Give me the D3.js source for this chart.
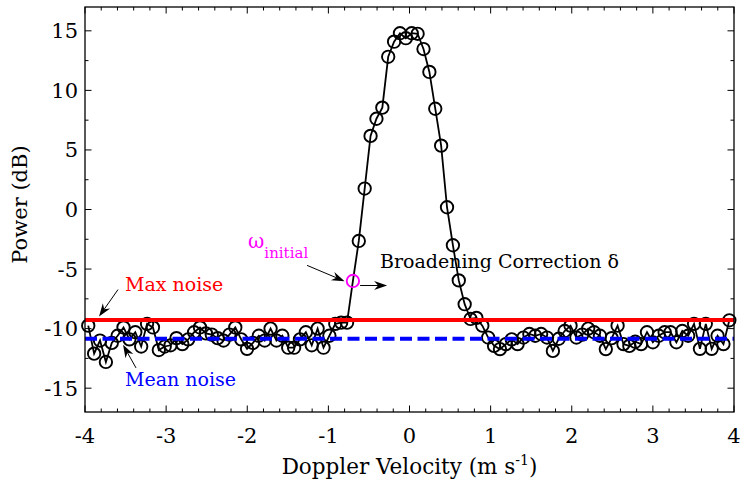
<!DOCTYPE html>
<html>
  <head>
    <meta charset="utf-8">
    <style>
      body { margin: 0; background: #fff; }
      svg text { font-family: 'DejaVu Serif', serif; }
    </style>
  </head>
  <body>
    <div class='chart-container'></div>
    <script src="https://cdn.jsdelivr.net/npm/d3@7"></script>
    <script>
// velocity bins: first bin and spacing (m/s)
var velocityStart = -3.96;
var velocityStep = 0.0725;

// spectral power per bin (dB)
var power = [
  -9.75, -12.1, -11.0, -12.8, -11.2, -10.6, -9.9, -10.9, -10.3, -11.5,
  -9.6, -9.9, -11.8, -11.5, -11.4, -10.8, -11.3, -10.9, -10.3, -9.9,
  -10.4, -10.5, -10.8, -11.0, -10.5, -9.9, -10.9, -11.7, -11.2, -10.6,
  -11.0, -10.0, -11.0, -10.6, -11.6, -11.6, -10.9, -10.3, -11.4, -10.0,
  -11.6, -10.6, -9.6, -9.5, -9.5, -6.0, -2.64, 1.76, 6.18, 7.62,
  8.55, 12.82, 14.09, 14.8, 14.38, 14.8, 14.75, 13.47, 11.55, 8.46,
  5.36, 0.19, -3.0, -5.95, -7.95, -9.19, -9.1, -9.75, -10.75, -11.45,
  -11.72, -11.3, -10.9, -11.3, -10.75, -10.45, -10.6, -10.45, -10.75, -11.87,
  -10.85, -10.2, -9.75, -10.75, -10.5, -10.0, -10.3, -10.6, -11.72, -10.8,
  -9.75, -11.3, -11.45, -11.1, -11.3, -10.3, -11.15, -10.6, -10.3, -10.3,
  -11.15, -10.2, -10.6, -9.6, -11.7, -9.6, -11.7, -10.6, -11.3, -9.3
];

var initialIndex = 45;     // bin marked as omega_initial
var maxNoise = -9.27;
var meanNoise = -10.85;

var xTicks = [-4, -3, -2, -1, 0, 1, 2, 3, 4];
var yTicks = [-15, -10, -5, 0, 5, 10, 15];

var margin = {top: 7, right: 6, bottom: 69, left: 85};
var width = 740 - margin.left - margin.right;
var height = 481 - margin.top - margin.bottom;

var data = power.map(function(p, i) {
  return {v: velocityStart + i * velocityStep, p: p};
});

var x = d3.scaleLinear().domain([-4, 4]).range([0, width]);
var y = d3.scaleLinear().domain([-17, 17]).range([height, 0]);

var svg = d3.select('.chart-container').append('svg')
    .attr('width', 740)
    .attr('height', 481)
  .append('g')
    .attr('transform', 'translate(' + margin.left + ',' + margin.top + ')');

// data line + circles
var line = d3.line()
    .x(d => x(d.v))
    .y(d => y(d.p));

svg.append('path')
    .datum(data)
    .attr('d', line)
    .style('fill', 'none')
    .style('stroke', '#000')
    .style('stroke-width', 1.8);

svg.selectAll('circle.pt')
    .data(data.filter((d, i) => i !== initialIndex))
  .enter().append('circle')
    .attr('class', 'pt')
    .attr('cx', d => x(d.v))
    .attr('cy', d => y(d.p))
    .attr('r', 6.2)
    .style('fill', 'none')
    .style('stroke', '#000')
    .style('stroke-width', 1.9);

// noise levels
svg.append('line')
    .attr('x1', 0).attr('x2', width)
    .attr('y1', y(maxNoise)).attr('y2', y(maxNoise))
    .style('stroke', '#ff0000')
    .style('stroke-width', 4);

svg.append('line')
    .attr('x1', 0).attr('x2', width)
    .attr('y1', y(meanNoise)).attr('y2', y(meanNoise))
    .style('stroke', '#0000ff')
    .style('stroke-width', 4)
    .style('stroke-dasharray', '12,5.5');

svg.append('circle')
    .attr('cx', x(data[initialIndex].v))
    .attr('cy', y(data[initialIndex].p))
    .attr('r', 6.2)
    .style('fill', 'none')
    .style('stroke', '#ff00ff')
    .style('stroke-width', 1.9);

// axes box with inward ticks
function drawTicks(vals, len) {
  vals.forEach(function(t) {
    var px = x(t);
    svg.append('line').attr('x1', px).attr('x2', px).attr('y1', height).attr('y2', height - len)
        .style('stroke', '#000').style('stroke-width', 1);
    svg.append('line').attr('x1', px).attr('x2', px).attr('y1', 0).attr('y2', len)
        .style('stroke', '#000').style('stroke-width', 1);
  });
}
function drawYTicks(vals, len) {
  vals.forEach(function(t) {
    var py = y(t);
    svg.append('line').attr('x1', 0).attr('x2', len).attr('y1', py).attr('y2', py)
        .style('stroke', '#000').style('stroke-width', 1);
    svg.append('line').attr('x1', width).attr('x2', width - len).attr('y1', py).attr('y2', py)
        .style('stroke', '#000').style('stroke-width', 1);
  });
}
drawTicks(xTicks, 6.5);
drawTicks(d3.range(-4, 4.001, 0.2).filter(t => Math.abs(t - Math.round(t)) > 0.01), 3.5);
drawYTicks(yTicks, 6.5);
drawYTicks([-12.5, -7.5, -2.5, 2.5, 7.5, 12.5], 3.5);

svg.append('rect')
    .attr('width', width)
    .attr('height', height)
    .style('fill', 'none')
    .style('stroke', '#000')
    .style('stroke-width', 1.3);

svg.selectAll('text.xt')
    .data(xTicks)
  .enter().append('text')
    .attr('class', 'xt')
    .attr('x', d => x(d))
    .attr('y', height + 31)
    .attr('text-anchor', 'middle')
    .style('font-size', '21px')
    .text(d => d);

svg.selectAll('text.yt')
    .data(yTicks)
  .enter().append('text')
    .attr('class', 'yt')
    .attr('x', -7)
    .attr('y', d => y(d) + 7.5)
    .attr('text-anchor', 'end')
    .style('font-size', '21px')
    .text(d => d);

var xLabel = svg.append('text')
    .attr('x', width / 2)
    .attr('y', height + 62)
    .attr('text-anchor', 'middle')
    .style('font-size', '21.5px');
xLabel.append('tspan').text('Doppler Velocity (m s');
xLabel.append('tspan').attr('dy', -9).style('font-size', '14px').text('-1');
xLabel.append('tspan').attr('dy', 9).text(')');

svg.append('text')
    .attr('transform', 'translate(' + (-58) + ',' + (height / 2 - 5) + ') rotate(-90)')
    .attr('text-anchor', 'middle')
    .style('font-size', '21px')
    .text('Power (dB)');

// annotations
function arrow(x0, y0, x1, y1) {
  var a = Math.atan2(y(y1) - y(y0), x(x1) - x(x0));
  var tx = x(x1), ty = y(y1);
  var L = 13, W = 4.5, N = 9;
  var pts = [
    [tx, ty],
    [tx - L * Math.cos(a) + W * Math.sin(a), ty - L * Math.sin(a) - W * Math.cos(a)],
    [tx - N * Math.cos(a), ty - N * Math.sin(a)],
    [tx - L * Math.cos(a) - W * Math.sin(a), ty - L * Math.sin(a) + W * Math.cos(a)]
  ];
  svg.append('line')
      .attr('x1', x(x0)).attr('y1', y(y0))
      .attr('x2', tx - N * Math.cos(a)).attr('y2', ty - N * Math.sin(a))
      .style('stroke', '#000').style('stroke-width', 1);
  svg.append('path')
      .attr('d', 'M' + pts.map(p => p.join(',')).join('L') + 'Z')
      .style('fill', '#000');
}

svg.append('text')
    .attr('x', x(-3.507)).attr('y', y(-6.8))
    .style('font-size', '19px').style('fill', '#ff0000')
    .text('Max noise');
arrow(-3.593, -6.72, -3.827, -8.99);

svg.append('text')
    .attr('x', x(-3.507)).attr('y', y(-14.82))
    .style('font-size', '19px').style('fill', '#0000ff')
    .text('Mean noise');
arrow(-3.371, -13.3, -3.531, -11.36);

var omega = svg.append('text')
    .attr('x', x(-1.99)).attr('y', y(-3.25))
    .style('font-size', '20px').style('fill', '#ff00ff');
omega.append('tspan').text('\u03c9');
omega.append('tspan').attr('dy', 10).style('font-size', '15px').text('initial');
arrow(-1.263, -4.69, -0.8, -6.02);

svg.append('text')
    .attr('x', x(-0.363)).attr('y', y(-4.94))
    .style('font-size', '19px')
    .text('Broadening Correction \u03b4');
arrow(-0.609, -6.38, -0.276, -6.38);
    </script>
  </body>
</html>
